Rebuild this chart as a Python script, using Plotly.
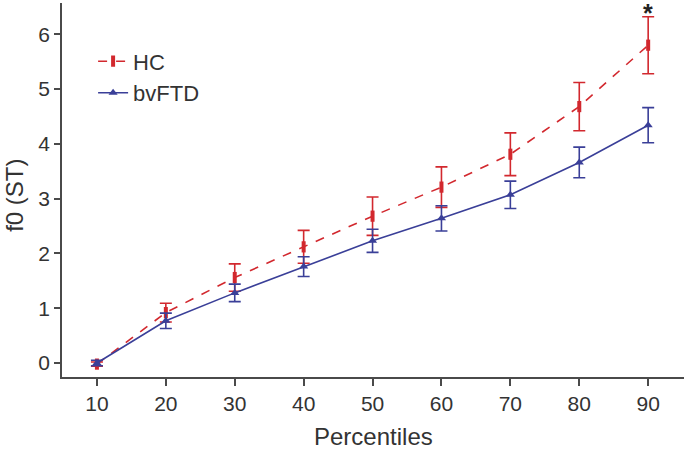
import plotly.graph_objects as go

# percentiles on the x axis
percentiles = [10, 20, 30, 40, 50, 60, 70, 80, 90]

# f0 (ST) means and error bar half-widths
hc_mean = [-0.02, 0.92, 1.56, 2.12, 2.68, 3.21, 3.81, 4.68, 5.80]
hc_err = [0.04, 0.17, 0.25, 0.30, 0.35, 0.37, 0.39, 0.44, 0.52]
ftd_mean = [0.0, 0.77, 1.28, 1.76, 2.23, 2.64, 3.07, 3.66, 4.34]
ftd_err = [0.05, 0.14, 0.16, 0.18, 0.21, 0.23, 0.25, 0.28, 0.32]

RED = "#d2282e"
BLUE = "#3a3f98"
AXIS = "#4a4a4a"

fig = go.Figure()

fig.add_trace(go.Scatter(
    x=percentiles, y=hc_mean, name="HC", mode="lines+markers",
    line=dict(color=RED, width=1.6, dash="dash"),
    marker=dict(symbol="line-ns", size=8, line=dict(color=RED, width=4)),
    error_y=dict(type="data", array=hc_err, color=RED, thickness=1.6, width=6),
))
fig.add_trace(go.Scatter(
    x=percentiles, y=ftd_mean, name="bvFTD", mode="lines+markers",
    line=dict(color=BLUE, width=1.6),
    marker=dict(symbol="triangle-up", size=8, color=BLUE),
    error_y=dict(type="data", array=ftd_err, color=BLUE, thickness=1.6, width=6),
))

# significance mark above the 90th percentile
fig.add_annotation(x=percentiles[-1], y=hc_mean[-1] + hc_err[-1], text="<b>*</b>",
                   showarrow=False, yanchor="middle", yshift=4, borderpad=0,
                   font=dict(size=25, color="#222222"))

# axis titles placed by hand in the margins
fig.add_annotation(xref="paper", yref="paper", x=0.5, y=-0.16, yanchor="middle",
                   text="Percentiles", showarrow=False, font=dict(size=24))
fig.add_annotation(xref="paper", yref="paper", x=-0.0756, y=0.487, xanchor="center",
                   text="f0 (ST)", textangle=-90, showarrow=False, font=dict(size=24))

fig.update_layout(
    width=687, height=449,
    margin=dict(l=62, r=3, t=3, b=72),
    paper_bgcolor="white", plot_bgcolor="white",
    font=dict(family="Liberation Sans, Arial, sans-serif", size=21, color="#333333"),
    legend=dict(x=0.05, y=0.9, xanchor="left", yanchor="top",
                bgcolor="rgba(0,0,0,0)", font=dict(size=22),
                tracegroupgap=0, itemwidth=30),
)

fig.update_xaxes(
    range=[4.93, 95.2], tickvals=percentiles, showgrid=False, zeroline=False,
    showline=True, linecolor=AXIS, linewidth=1.5, automargin=False,
    ticks="outside", ticklen=7, tickcolor=AXIS, tickwidth=1.5,
)
fig.update_yaxes(
    range=[-0.255, 6.57], tickvals=[0, 1, 2, 3, 4, 5, 6], showgrid=False, zeroline=False,
    showline=True, linecolor=AXIS, linewidth=1.5, automargin=False,
    ticks="outside", ticklen=6, tickcolor=AXIS, tickwidth=1.5,
)

# drop the default page margin so the figure sits at the window's corner
fig.write_html("out.html", config={"displayModeBar": False},
               post_script="document.body.style.margin='0';")
